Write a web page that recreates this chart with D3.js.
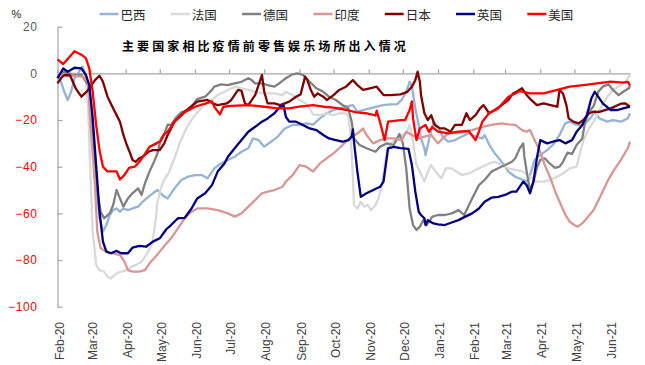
<!DOCTYPE html>
<html><head><meta charset="utf-8">
<script src="https://cdn.jsdelivr.net/npm/d3@7"></script>
<style>body{margin:0;background:#fff}svg{display:block}</style>
</head><body>
<svg id="chart" width="645" height="365"></svg>
<script>
const seriesNames = ["巴西","法国","德国","印度","日本","英国","美国"];
const seriesColors = ["#95B3D7","#D9D9D9","#808080","#D99694","#800000","#000080","#FF0000"];
const titleText = "主要国家相比疫情前零售娱乐场所出入情况";
const unitText = "%";
const yTickValues = [-100,-80,-60,-40,-20,0,20];
const xTickDates = ["2020-02-15","2020-03-15","2020-04-15","2020-05-15","2020-06-15","2020-07-15","2020-08-15","2020-09-15","2020-10-15","2020-11-15","2020-12-15","2021-01-15","2021-02-15","2021-03-15","2021-04-15","2021-05-15","2021-06-15"];
const dateRange = ["2020-02-15","2021-07-03"];

const brazil = [["2020-02-15",-0.7],["2020-02-17",-2.1],["2020-02-21",-7.9],["2020-02-24",-11.4],["2020-02-27",-7.9],["2020-03-01",-2.1],["2020-03-08",2.9],["2020-03-11",-0.7],["2020-03-14",-7.9],["2020-03-17",-29.3],["2020-03-20",-47.9],["2020-03-23",-62.1],["2020-03-26",-67.9],["2020-03-29",-65],["2020-04-01",-60.7],["2020-04-04",-58.6],["2020-04-07",-57.9],["2020-04-10",-59.3],["2020-04-13",-57.9],["2020-04-17",-58.6],["2020-04-21",-57.9],["2020-04-26",-57.1],["2020-04-30",-55],["2020-05-05",-52.9],["2020-05-09",-51.4],["2020-05-13",-50],["2020-05-18",-52.5],["2020-05-22",-53.6],["2020-05-28",-49.3],["2020-06-03",-45.7],["2020-06-09",-44.3],["2020-06-15",-43.6],["2020-06-21",-43.6],["2020-06-26",-45],["2020-07-02",-40.7],["2020-07-08",-38.6],["2020-07-14",-37.1],["2020-07-20",-35.7],["2020-07-26",-33.6],["2020-08-01",-32.1],["2020-08-05",-27.9],["2020-08-10",-28.6],["2020-08-15",-31.4],["2020-08-21",-29.3],["2020-08-27",-27.1],["2020-09-02",-23.6],["2020-09-09",-22.1],["2020-09-15",-22.1],["2020-09-21",-21.4],["2020-09-27",-22],["2020-10-03",-19.3],["2020-10-09",-17.1],["2020-10-15",-15.7],["2020-10-20",-15],["2020-10-26",-14.3],["2020-11-01",-13.6],["2020-11-05",-16.4],["2020-11-10",-15.7],["2020-11-16",-15],["2020-11-22",-14.3],["2020-11-28",-13.6],["2020-12-04",-13.3],["2020-12-10",-13.2],["2020-12-14",-11.4],["2020-12-18",-7.9],["2020-12-21",-3.6],["2020-12-23",-5.7],["2020-12-26",-15],["2020-12-29",-22.1],["2020-12-31",-27.9],["2021-01-03",-32.1],["2021-01-04",-35],["2021-01-08",-26.4],["2021-01-11",-20.7],["2021-01-15",-22.9],["2021-01-19",-27.1],["2021-01-24",-29.3],["2021-01-30",-28.6],["2021-02-05",-27.1],["2021-02-11",-25.7],["2021-02-17",-27.1],["2021-02-23",-27.9],["2021-02-25",-26.4],["2021-03-02",-31.4],["2021-03-06",-34.3],["2021-03-12",-37.9],["2021-03-18",-42.1],["2021-03-24",-44.3],["2021-03-31",-45.7],["2021-04-04",-46.4],["2021-04-07",-42.1],["2021-04-10",-37.1],["2021-04-15",-35],["2021-04-21",-32.9],["2021-04-26",-30.7],["2021-05-02",-26.4],["2021-05-07",-21.4],["2021-05-11",-20.7],["2021-05-17",-22.1],["2021-05-23",-22.1],["2021-05-29",-19.3],["2021-06-02",-16.4],["2021-06-06",-19.3],["2021-06-13",-20.7],["2021-06-18",-20],["2021-06-25",-20.7],["2021-07-01",-19.3],["2021-07-03",-17.1]];

const france = [["2020-02-15",-0.7],["2020-03-01",0],["2020-03-08",-1.4],["2020-03-11",-2.1],["2020-03-13",-15],["2020-03-15",-43.6],["2020-03-17",-67.9],["2020-03-20",-82.1],["2020-03-23",-84.3],["2020-03-27",-85],["2020-03-30",-87.1],["2020-04-02",-87.9],["2020-04-07",-85.7],["2020-04-11",-85],["2020-04-16",-84.3],["2020-04-20",-82.9],["2020-04-24",-82.1],["2020-04-29",-80.7],["2020-05-03",-77.9],["2020-05-08",-73.6],["2020-05-10",-67.9],["2020-05-12",-60.7],["2020-05-13",-55],["2020-05-16",-49.3],["2020-05-19",-45.5],["2020-05-23",-42.5],["2020-05-28",-36.4],["2020-06-01",-30.7],["2020-06-06",-25],["2020-06-10",-21.4],["2020-06-14",-18.6],["2020-06-19",-15.7],["2020-06-23",-13.6],["2020-06-30",-11.4],["2020-07-05",-9.3],["2020-07-11",-7.9],["2020-07-17",-6.4],["2020-07-21",-5.7],["2020-07-26",-6.4],["2020-08-01",-7.1],["2020-08-07",-7.9],["2020-08-13",-8.6],["2020-08-24",-8.6],["2020-08-31",-9.3],["2020-09-03",-7.9],["2020-09-09",-9.3],["2020-09-15",-11.4],["2020-09-21",-12.9],["2020-09-27",-17.6],["2020-10-03",-17.9],["2020-10-09",-17.1],["2020-10-15",-17.9],["2020-10-20",-17.1],["2020-10-25",-17.1],["2020-10-28",-17.9],["2020-10-30",-26.4],["2020-11-01",-43.6],["2020-11-02",-56.4],["2020-11-05",-57.9],["2020-11-08",-55],["2020-11-11",-57.1],["2020-11-14",-56.4],["2020-11-17",-58.6],["2020-11-21",-56.4],["2020-11-23",-54.3],["2020-11-26",-49.3],["2020-11-29",-39.3],["2020-12-01",-32.9],["2020-12-04",-30],["2020-12-08",-28.6],["2020-12-14",-26.4],["2020-12-18",-25.7],["2020-12-21",-22.1],["2020-12-24",-29.3],["2020-12-27",-39.3],["2020-12-30",-42.1],["2021-01-03",-46.4],["2021-01-06",-42.1],["2021-01-09",-39.3],["2021-01-13",-42.1],["2021-01-18",-45],["2021-01-22",-40.7],["2021-01-27",-40.7],["2021-01-31",-42.1],["2021-02-05",-43.6],["2021-02-11",-42.9],["2021-02-17",-41.4],["2021-02-23",-40],["2021-03-01",-38.6],["2021-03-06",-37.9],["2021-03-12",-39.3],["2021-03-18",-40.7],["2021-03-24",-41.4],["2021-03-31",-42.1],["2021-04-06",-44.3],["2021-04-12",-46.4],["2021-04-18",-46.4],["2021-04-24",-45.7],["2021-04-30",-44.3],["2021-05-05",-42.9],["2021-05-11",-40.7],["2021-05-17",-40],["2021-05-20",-34.3],["2021-05-23",-28.6],["2021-05-28",-23.6],["2021-06-01",-20.7],["2021-06-06",-15.7],["2021-06-13",-10],["2021-06-18",-7.1],["2021-06-25",-5],["2021-06-29",-3.6],["2021-07-03",-0.7]];

const germany = [["2020-02-15",-2],["2020-02-20",0.7],["2020-02-28",-0.4],["2020-03-07",-0.5],["2020-03-13",-5],["2020-03-15",-15],["2020-03-19",-36.4],["2020-03-21",-50.7],["2020-03-24",-59.3],["2020-03-27",-62.1],["2020-04-01",-60],["2020-04-04",-56.4],["2020-04-07",-50],["2020-04-10",-53.6],["2020-04-13",-57.1],["2020-04-17",-53.6],["2020-04-21",-51.4],["2020-04-26",-49.3],["2020-04-29",-52.1],["2020-05-02",-47.1],["2020-05-06",-42.1],["2020-05-10",-37.9],["2020-05-13",-34.3],["2020-05-16",-27.9],["2020-05-19",-26],["2020-05-22",-22],["2020-05-25",-22.1],["2020-05-30",-18.6],["2020-06-03",-16.7],["2020-06-09",-15.7],["2020-06-13",-13.6],["2020-06-17",-11],["2020-06-24",-10],["2020-06-30",-7.1],["2020-07-02",-5.7],["2020-07-08",-4.7],["2020-07-14",-5],["2020-07-20",-4.3],["2020-07-26",-3.6],["2020-08-01",-2.1],["2020-08-04",-2.9],["2020-08-07",-4.3],["2020-08-13",-4.3],["2020-08-18",-5],["2020-08-24",-5.7],["2020-08-29",-4],["2020-09-03",-2.1],["2020-09-09",-0.4],["2020-09-13",0],["2020-09-18",-0.7],["2020-09-24",-3.6],["2020-09-30",-6.4],["2020-10-06",-7.9],["2020-10-11",-10],["2020-10-17",-11.4],["2020-10-23",-13.6],["2020-10-28",-15],["2020-10-31",-20.7],["2020-11-02",-27.9],["2020-11-07",-30.7],["2020-11-13",-32.1],["2020-11-21",-33.6],["2020-11-25",-31.4],["2020-12-01",-30],["2020-12-07",-30.7],["2020-12-12",-26],["2020-12-15",-30],["2020-12-18",-40.7],["2020-12-21",-57.9],["2020-12-24",-65],["2020-12-27",-67.1],["2020-12-30",-65.7],["2021-01-02",-62.9],["2021-01-05",-65],["2021-01-10",-61.4],["2021-01-15",-60.7],["2021-01-21",-60.7],["2021-01-27",-60],["2021-02-02",-58.6],["2021-02-07",-60.7],["2021-02-14",-53.6],["2021-02-20",-47.9],["2021-02-25",-45.7],["2021-03-03",-42.1],["2021-03-09",-40.7],["2021-03-15",-39.3],["2021-03-21",-37.9],["2021-03-24",-36.4],["2021-03-28",-32.1],["2021-03-31",-30],["2021-04-01",-35.7],["2021-04-04",-45],["2021-04-06",-50],["2021-04-09",-46.4],["2021-04-12",-40.5],["2021-04-15",-37.1],["2021-04-19",-36.4],["2021-04-23",-38.5],["2021-04-28",-40.5],["2021-05-02",-40],["2021-05-05",-37.9],["2021-05-09",-34],["2021-05-13",-34.5],["2021-05-17",-30.7],["2021-05-22",-27.9],["2021-05-24",-22.1],["2021-05-27",-17.1],["2021-06-01",-14],["2021-06-05",-7.9],["2021-06-09",-5.7],["2021-06-14",-4.7],["2021-06-18",-7.1],["2021-06-23",-9.3],["2021-06-27",-7.9],["2021-07-02",-6.4],["2021-07-03",-5]];

const india = [["2020-02-15",-0.5],["2020-03-08",-1.4],["2020-03-13",-3.6],["2020-03-15",-22],["2020-03-19",-48],["2020-03-21",-67.9],["2020-03-24",-75],["2020-03-29",-76.4],["2020-04-04",-77.1],["2020-04-10",-77.9],["2020-04-14",-80.7],["2020-04-17",-84.3],["2020-04-21",-85],["2020-04-27",-85],["2020-05-02",-84.3],["2020-05-06",-81.4],["2020-05-10",-79.3],["2020-05-15",-76.4],["2020-05-19",-74],["2020-05-25",-70.7],["2020-05-31",-66.4],["2020-06-06",-62.1],["2020-06-12",-59.3],["2020-06-17",-57.9],["2020-06-26",-57.9],["2020-07-05",-58.6],["2020-07-14",-60],["2020-07-20",-61.4],["2020-07-26",-60],["2020-08-01",-57.1],["2020-08-07",-54.3],["2020-08-13",-51.4],["2020-08-18",-50.7],["2020-08-24",-50],["2020-08-31",-48.6],["2020-09-03",-46.4],["2020-09-09",-43.6],["2020-09-15",-39.3],["2020-09-21",-40],["2020-09-27",-42.1],["2020-10-03",-38.6],["2020-10-09",-36.4],["2020-10-15",-34.3],["2020-10-20",-32.1],["2020-10-26",-29.3],["2020-11-01",-27.1],["2020-11-07",-25],["2020-11-10",-23.6],["2020-11-13",-26.4],["2020-11-19",-30],["2020-11-25",-28.6],["2020-12-01",-27.9],["2020-12-07",-27.9],["2020-12-14",-28.6],["2020-12-18",-25],["2020-12-23",-26.4],["2020-12-29",-27.9],["2021-01-03",-27.1],["2021-01-09",-26.4],["2021-01-15",-30],["2021-01-19",-27.9],["2021-01-26",-25],["2021-01-31",-25.7],["2021-02-08",-25],["2021-02-14",-24.3],["2021-02-23",-22.9],["2021-03-03",-22.1],["2021-03-12",-21.4],["2021-03-18",-21.9],["2021-03-24",-22.1],["2021-03-30",-24.3],["2021-04-03",-25],["2021-04-06",-24.3],["2021-04-10",-28.6],["2021-04-15",-33.6],["2021-04-19",-39.3],["2021-04-24",-45],["2021-04-28",-50.5],["2021-05-02",-55],["2021-05-07",-60.5],["2021-05-11",-63.6],["2021-05-15",-65],["2021-05-18",-65.7],["2021-05-22",-64.3],["2021-05-26",-62.1],["2021-06-01",-58.6],["2021-06-06",-53.6],["2021-06-13",-46.4],["2021-06-18",-42.1],["2021-06-25",-37.1],["2021-07-01",-32.1],["2021-07-03",-29.3]];

const japan = [["2020-02-15",-4.3],["2020-02-18",-2.1],["2020-02-21",-0.7],["2020-02-26",-0.8],["2020-03-02",-6.4],["2020-03-07",-10],["2020-03-10",-8.6],["2020-03-13",-7.1],["2020-03-19",-2.9],["2020-03-23",-1],["2020-03-26",-3.6],["2020-03-30",-10],["2020-04-04",-15],["2020-04-07",-17.9],["2020-04-10",-20.7],["2020-04-13",-26.4],["2020-04-16",-30.7],["2020-04-19",-34.3],["2020-04-21",-37.1],["2020-04-24",-37.9],["2020-04-27",-36.4],["2020-04-30",-35.7],["2020-05-05",-33.6],["2020-05-09",-32.9],["2020-05-15",-32.9],["2020-05-19",-30],["2020-05-22",-26.4],["2020-05-28",-20.7],["2020-06-06",-16.4],["2020-06-17",-12.1],["2020-06-26",-11.4],["2020-07-01",-12.9],["2020-07-05",-13.6],["2020-07-13",-12.9],["2020-07-17",-11.4],["2020-07-23",-7.1],["2020-07-26",-7.5],["2020-07-29",-12.9],["2020-08-01",-13.6],["2020-08-07",-9.3],["2020-08-10",-5],["2020-08-13",-0.7],["2020-08-15",-7.9],["2020-08-18",-12.9],["2020-08-24",-12.9],["2020-08-29",-13.6],["2020-09-06",-12.1],["2020-09-12",-10],["2020-09-16",-9],["2020-09-20",-1.4],["2020-09-22",-2.9],["2020-09-25",-7.1],["2020-09-28",-10],["2020-10-01",-8.6],["2020-10-06",-10],["2020-10-09",-11.4],["2020-10-15",-9.3],["2020-10-20",-7.1],["2020-10-26",-5.7],["2020-11-01",-2.9],["2020-11-05",-5],["2020-11-10",-7.1],["2020-11-16",-6.4],["2020-11-22",-5.7],["2020-11-28",-9.3],["2020-12-04",-9.3],["2020-12-13",-9],["2020-12-19",-7.9],["2020-12-23",-5.7],["2020-12-26",-2.9],["2020-12-28",0.7],["2020-12-30",-3.6],["2020-12-31",-9.3],["2021-01-03",-17.1],["2021-01-06",-20],["2021-01-09",-17.9],["2021-01-12",-22.1],["2021-01-17",-23.6],["2021-01-21",-23.6],["2021-01-26",-25],["2021-01-30",-22.1],["2021-02-05",-22.1],["2021-02-09",-17.1],["2021-02-12",-20],["2021-02-17",-17.9],["2021-02-21",-15],["2021-02-24",-13.6],["2021-03-01",-17.1],["2021-03-06",-15.7],["2021-03-12",-13.6],["2021-03-18",-11.4],["2021-03-22",-8.6],["2021-03-25",-7.9],["2021-03-30",-6.4],["2021-04-03",-9.3],["2021-04-07",-11.4],["2021-04-12",-13.6],["2021-04-18",-12.9],["2021-04-24",-13.6],["2021-04-30",-14.3],["2021-05-02",-7.1],["2021-05-05",-8.6],["2021-05-08",-13.6],["2021-05-10",-19.3],["2021-05-14",-20.7],["2021-05-19",-21.4],["2021-05-23",-20],["2021-05-28",-17.1],["2021-06-01",-16.4],["2021-06-06",-16.5],["2021-06-16",-15],["2021-06-25",-13],["2021-06-29",-12.9],["2021-07-03",-14.3]];

const uk = [["2020-02-15",-2.1],["2020-02-20",2.1],["2020-02-24",0.7],["2020-03-01",2.4],["2020-03-07",2.1],["2020-03-11",-0.7],["2020-03-14",-5],["2020-03-17",-19.3],["2020-03-20",-39.3],["2020-03-23",-59.3],["2020-03-26",-72.1],["2020-03-29",-76.4],["2020-04-02",-77.1],["2020-04-07",-76.1],["2020-04-11",-77.1],["2020-04-17",-77.1],["2020-04-21",-74.7],["2020-04-27",-73.9],["2020-05-03",-74.3],["2020-05-09",-72.1],["2020-05-15",-70.7],["2020-05-21",-66.7],["2020-05-25",-65],["2020-05-31",-62.1],["2020-06-06",-61.9],["2020-06-12",-57.9],["2020-06-17",-53.6],["2020-06-24",-51.4],["2020-06-30",-47.9],["2020-07-05",-42.1],["2020-07-11",-38.6],["2020-07-14",-35.7],["2020-07-20",-32.1],["2020-07-26",-28.6],["2020-08-01",-25],["2020-08-07",-22.9],["2020-08-13",-20.7],["2020-08-18",-19.3],["2020-08-24",-17.1],["2020-08-29",-14.3],["2020-09-01",-13.6],["2020-09-03",-18.6],["2020-09-06",-20.7],["2020-09-12",-20.7],["2020-09-18",-22.1],["2020-09-24",-23.6],["2020-09-30",-24.3],["2020-10-06",-26.4],["2020-10-11",-27.9],["2020-10-17",-28.6],["2020-10-23",-29.3],["2020-10-28",-28.6],["2020-10-31",-27.1],["2020-11-01",-24],["2020-11-02",-29.3],["2020-11-05",-42.1],["2020-11-08",-52.9],["2020-11-13",-51.4],["2020-11-19",-50],["2020-11-25",-48.6],["2020-11-28",-46.4],["2020-11-30",-39.3],["2020-12-02",-32.1],["2020-12-07",-31.5],["2020-12-13",-32],["2020-12-20",-32.4],["2020-12-23",-39.3],["2020-12-26",-50.7],["2020-12-29",-59.3],["2020-12-31",-60.7],["2021-01-03",-62.1],["2021-01-04",-65],["2021-01-06",-62.9],["2021-01-11",-64.3],["2021-01-15",-64.7],["2021-01-21",-65],["2021-01-27",-63.9],["2021-02-02",-62.9],["2021-02-08",-61.4],["2021-02-14",-60],["2021-02-20",-57.9],["2021-02-25",-55],["2021-03-03",-53.3],["2021-03-09",-52.9],["2021-03-15",-52.1],["2021-03-21",-50.7],["2021-03-25",-50.7],["2021-03-31",-46.4],["2021-04-03",-47.9],["2021-04-06",-51.4],["2021-04-09",-46.4],["2021-04-12",-36.4],["2021-04-15",-28.6],["2021-04-21",-30],["2021-04-26",-29.3],["2021-05-02",-28.6],["2021-05-07",-30],["2021-05-13",-28.6],["2021-05-17",-25],["2021-05-22",-22.1],["2021-05-26",-17.9],["2021-05-30",-10.7],["2021-06-02",-7.9],["2021-06-05",-10],["2021-06-09",-12.9],["2021-06-16",-15.7],["2021-06-22",-15.7],["2021-06-27",-15],["2021-07-03",-14.3]];

const us = [["2020-02-15",6],["2020-02-20",4],["2020-03-01",9.5],["2020-03-07",8],["2020-03-11",6.5],["2020-03-14",2],["2020-03-17",-8],["2020-03-20",-22],["2020-03-23",-33],["2020-03-26",-40],["2020-03-30",-42],["2020-04-07",-42],["2020-04-10",-45.5],["2020-04-14",-43.5],["2020-04-18",-40.5],["2020-04-23",-40],["2020-04-27",-38],["2020-05-02",-34.5],["2020-05-06",-31.5],["2020-05-12",-30],["2020-05-16",-29],["2020-05-19",-26],["2020-05-22",-25],["2020-05-28",-20.7],["2020-06-06",-16.7],["2020-06-15",-14.3],["2020-06-24",-13],["2020-06-30",-12],["2020-07-02",-14.3],["2020-07-07",-17.6],["2020-07-10",-14.3],["2020-07-17",-13.9],["2020-08-01",-13.6],["2020-08-15",-14.3],["2020-08-27",-15],["2020-09-06",-15],["2020-09-15",-14.3],["2020-09-27",-13.6],["2020-10-06",-14.3],["2020-10-15",-14.7],["2020-10-27",-15.7],["2020-11-04",-16.7],["2020-11-13",-17.1],["2020-11-21",-18],["2020-11-22",-16],["2020-11-25",-21],["2020-11-29",-28.6],["2020-12-02",-20.7],["2020-12-13",-20],["2020-12-17",-20],["2020-12-21",-15.7],["2020-12-23",-12],["2020-12-24",-19.3],["2020-12-27",-28.6],["2020-12-30",-23.6],["2021-01-04",-22.1],["2021-01-07",-25],["2021-01-10",-23],["2021-01-15",-25],["2021-01-24",-25.7],["2021-02-02",-25],["2021-02-11",-24.7],["2021-02-17",-28.6],["2021-02-20",-25],["2021-02-23",-20.7],["2021-03-01",-17],["2021-03-09",-15],["2021-03-18",-10],["2021-03-24",-8.6],["2021-03-28",-7.6],["2021-04-06",-8.6],["2021-04-18",-8.6],["2021-04-30",-7.1],["2021-05-11",-5.7],["2021-05-23",-5],["2021-06-04",-4.3],["2021-06-16",-3.5],["2021-06-27",-4],["2021-07-01",-3.6],["2021-07-03",-5]];

const seriesData = [brazil, france, germany, india, japan, uk, us];

const parse = d3.timeParse("%Y-%m-%d");
const svg = d3.select("#chart");
const x = d3.scaleTime().domain(dateRange.map(parse)).range([57.5, 630]);
const y = d3.scaleLinear().domain([-100, 20]).range([306.7, 26.7]);
const axisColor = "#a6a6a6";
const numFont = "'Liberation Sans', Arial, sans-serif";
const cjkFont = "'Noto Sans CJK SC', sans-serif";

// y axis
const yAxis = svg.append("g").attr("transform", "translate(57.5,0)")
  .call(d3.axisLeft(y).tickValues(yTickValues).tickSize(-5).tickSizeOuter(0).tickPadding(20));
yAxis.select(".domain").attr("stroke", axisColor).attr("stroke-width", 1.2);
yAxis.selectAll(".tick line").attr("stroke", axisColor).attr("stroke-width", 1.2);
yAxis.selectAll(".tick text")
  .attr("font-family", numFont).attr("font-size", 12).attr("letter-spacing", 0.6)
  .attr("fill", d => d < 0 ? "#ff0000" : "#595959");

// x axis (zero line) with upward ticks
const xTicks = xTickDates.map(parse);
const xAxis = svg.append("g").attr("transform", `translate(0,${y(0)})`)
  .call(d3.axisTop(x).tickValues(xTicks).tickSize(4).tickSizeOuter(0).tickFormat(""));
xAxis.select(".domain").attr("stroke", axisColor).attr("stroke-width", 1.2);
xAxis.selectAll(".tick line").attr("stroke", axisColor).attr("stroke-width", 1.2);

// x labels at bottom, rotated
const fmt = d3.timeFormat("%b-%y");
svg.append("g").selectAll("text").data(xTicks).join("text")
  .attr("transform", d => `translate(${x(d) + 2},322) rotate(-90)`)
  .attr("text-anchor", "end").attr("dy", "0.35em")
  .attr("font-family", numFont).attr("font-size", 12).attr("fill", "#404040")
  .text(d => fmt(d));

// lines
const line = d3.line().x(d => x(parse(d[0]))).y(d => y(d[1]));
svg.append("g").selectAll("path").data(seriesData).join("path")
  .attr("d", d => line(d))
  .attr("fill", "none")
  .attr("stroke", (d, i) => seriesColors[i])
  .attr("stroke-width", 2.3)
  .attr("stroke-linejoin", "round");

// legend
const lg = svg.append("g");
seriesNames.forEach((name, i) => {
  const x0 = 99.5 + i * 71.3;
  lg.append("line").attr("x1", x0).attr("x2", x0 + 19).attr("y1", 14).attr("y2", 14)
    .attr("stroke", seriesColors[i]).attr("stroke-width", 2.5);
  lg.append("text").attr("x", x0 + 21).attr("y", 14.3).attr("dominant-baseline", "central")
    .attr("font-family", cjkFont).attr("font-size", 12.5).attr("fill", "#262626").text(name);
});

// unit label
svg.append("text").attr("x", 11.5).attr("y", 14).attr("dominant-baseline", "central")
  .attr("font-family", numFont).attr("font-size", 11).attr("fill", "#262626").text(unitText);

// title
svg.append("text").attr("x", 122).attr("y", 45.3).attr("dominant-baseline", "central")
  .attr("font-family", cjkFont).attr("font-size", 12).attr("font-weight", "bold")
  .attr("letter-spacing", 3.1).attr("fill", "#000").text(titleText);
</script>
</body></html>
